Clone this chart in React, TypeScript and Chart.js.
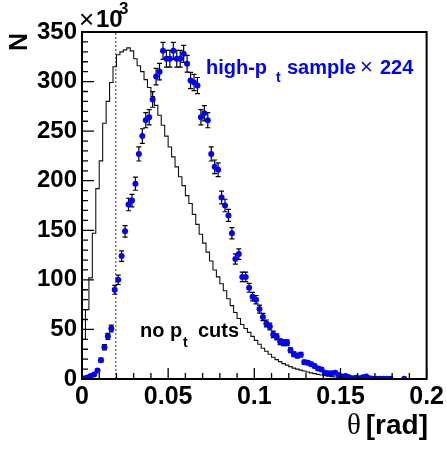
import React, { useEffect, useRef } from 'react';
import { Chart, registerables } from 'chart.js';

Chart.register(...registerables);

// ---------------- data (y values in units of 10^3) ----------------
const BIN_WIDTH = 0.002; // rad
const X_MIN = 0;
const X_MAX = 0.2;
const Y_MIN = 0;
const Y_MAX = 350;
const X_TICK_VALUES = [0, 0.05, 0.1, 0.15, 0.2];
const X_TICK_LABELS = ['0', '0.05', '0.1', '0.15', '0.2'];
const Y_TICK_STEP = 50;
const CUT_THETA = 0.0196;

// "no p_t cuts" histogram, 100 bins of 0.002 rad
const noCutHist = [
  40, 70, 102, 147, 192, 220, 258, 280, 299, 315,
  327, 330, 332, 334, 331, 323, 316, 310, 302, 294,
  285, 276, 266, 256, 245, 234, 224, 214, 204, 195,
  185, 177, 166, 156, 146, 137, 128, 119, 110, 103,
  96, 89, 81, 74, 67, 61, 55, 51, 47, 43,
  39, 35, 31, 28, 25, 22, 19.5, 17.5, 15.5, 14,
  12.5, 11, 10, 9, 8, 7, 6.2, 5.4, 4.7, 4,
  3.4, 2.9, 2.4, 2.0, 1.6, 1.3, 1.0, 0.8, 0.6, 0.5,
  0.4, 0.3, 0.25, 0.2, 0.15, 0.12, 0.1, 0.08, 0.06, 0.05,
  0.04, 0.03, 0.02, 0.02, 0.01, 0.01, 0, 0, 0, 0,
];

// "high-p_t sample x 224" points (bin centres), null = empty bin
const highPtValues = [
  0.5, 1.5, 3, 4.5, 8.5, 19, 32, 43, 51, 90,
  100, 124, 149, 176, 180, 197, 227, 245, 261, 264,
  282, 305, 310, 331, 323, 323, 331, 323, 323, 328,
  318, 301, 299, 296, 264, 268, 261, 227, 214, 211,
  183, 175, 165, 147, 121, 126, 103, 103, 92, 83,
  80, 70.5, 62.5, 56, 53, 45, 42.5, 37.5, 36.5, 36.5,
  29, 25, 23.5, 24.5, 17, 16.5, 15, 13, 10.7, 9.7,
  6.4, 5.7, 5.7, 6.4, 4, 2.4, 3, 1.7, 0.7, 1.3,
  0.7, 1.7, 2.4, 0.7, 0.3, 0.3, 0.3, 0.2, 0.2, 0.2,
  null, null, null, 0.3,
];

const highPtErrors = [
  0.3, 0.6, 0.8, 1.0, 1.4, 2.1, 2.7, 3.1, 3.4, 4.5,
  4.7, 5.3, 5.8, 6.3, 6.3, 6.6, 7.1, 7.4, 7.6, 7.7,
  7.9, 8.3, 8.3, 8.6, 8.5, 8.5, 8.6, 8.5, 8.5, 8.6,
  8.4, 8.2, 8.2, 8.1, 7.7, 7.7, 7.6, 7.1, 6.9, 6.9,
  6.4, 6.3, 6.1, 5.7, 5.2, 5.3, 4.8, 4.8, 4.5, 4.3,
  4.2, 4.0, 3.7, 3.5, 3.4, 3.2, 3.1, 2.9, 2.9, 2.9,
  2.5, 2.4, 2.3, 2.3, 2.0, 1.9, 1.8, 1.7, 1.5, 1.5,
  1.2, 1.1, 1.1, 1.2, 0.9, 0.7, 0.8, 0.6, 0.4, 0.5,
  0.4, 0.6, 0.7, 0.4, 0.3, 0.3, 0.3, 0.2, 0.2, 0.2,
  0, 0, 0, 0.3,
];

const FONT = '"Liberation Sans", Arial, Helvetica, sans-serif';
const SERIF = '"Liberation Serif", "DejaVu Serif", serif';

const rootDecor = {
  id: 'rootDecor',
  beforeDatasetsDraw(chart: any) {
    const { ctx, scales } = chart;
    const x = scales.x.getPixelForValue(CUT_THETA);
    ctx.save();
    ctx.strokeStyle = '#666666';
    ctx.lineWidth = 1.3;
    ctx.setLineDash([2, 2]);
    ctx.beginPath();
    ctx.moveTo(x, scales.y.getPixelForValue(Y_MIN));
    ctx.lineTo(x, scales.y.getPixelForValue(Y_MAX));
    ctx.stroke();
    ctx.restore();
  },
  beforeDatasetDraw(chart: any, args: any) {
    if (args.index !== 0) return;
    const { ctx, chartArea, scales } = chart;
    ctx.save();
    ctx.beginPath();
    ctx.rect(chartArea.left, chartArea.top, chartArea.right - chartArea.left, chartArea.bottom - chartArea.top);
    ctx.clip();
    ctx.strokeStyle = '#000';
    ctx.lineWidth = 1.2;
    highPtValues.forEach((v, i) => {
      if (v == null) return;
      const e = highPtErrors[i];
      if (!e) return;
      const px = scales.x.getPixelForValue((i + 0.5) * BIN_WIDTH);
      const y1 = scales.y.getPixelForValue(v - e);
      const y2 = scales.y.getPixelForValue(v + e);
      ctx.beginPath();
      ctx.moveTo(px, y1);
      ctx.lineTo(px, y2);
      ctx.moveTo(px - 2.5, y1);
      ctx.lineTo(px + 2.5, y1);
      ctx.moveTo(px - 2.5, y2);
      ctx.lineTo(px + 2.5, y2);
      ctx.stroke();
    });
    ctx.restore();
  },
  afterDraw(chart: any) {
    const { ctx, chartArea, scales } = chart;
    const { left, right, top, bottom } = chartArea;
    ctx.save();
    // frame
    ctx.strokeStyle = '#000';
    ctx.lineWidth = 2;
    ctx.strokeRect(left, top, right - left, bottom - top);
    // y ticks (inward)
    ctx.lineWidth = 1.3;
    ctx.beginPath();
    for (let v = Y_MIN; v <= Y_MAX; v += 10) {
      const py = scales.y.getPixelForValue(v);
      const len = v % Y_TICK_STEP === 0 ? 12 : 6;
      ctx.moveTo(left, py);
      ctx.lineTo(left + len, py);
    }
    // x ticks (inward)
    for (let k = 0; k <= 20; k++) {
      const v = k * 0.01;
      const px = scales.x.getPixelForValue(v);
      const len = k % 5 === 0 ? 11 : 6;
      ctx.moveTo(px, bottom);
      ctx.lineTo(px, bottom - len);
    }
    ctx.stroke();

    // x10^3
    ctx.fillStyle = '#000';
    ctx.textAlign = 'left';
    ctx.textBaseline = 'alphabetic';
    ctx.font = `26px ${FONT}`;
    ctx.fillText('×', 79, 28);
    ctx.font = `bold 24px ${FONT}`;
    ctx.fillText('10', 96, 27);
    ctx.font = `bold 17px ${FONT}`;
    ctx.fillText('3', 119, 14);

    // y title N
    ctx.save();
    ctx.translate(27, 33);
    ctx.rotate(-Math.PI / 2);
    ctx.textAlign = 'right';
    ctx.font = `bold 25px ${FONT}`;
    ctx.fillText('N', 0, 0);
    ctx.restore();

    // x title
    ctx.textAlign = 'right';
    ctx.font = `bold 28px ${FONT}`;
    ctx.fillText('[rad]', 428, 434);
    const wRad = ctx.measureText('[rad]').width;
    ctx.font = `29px ${SERIF}`;
    ctx.fillText('θ', 428 - wRad - 5, 434);

    // annotations
    ctx.textAlign = 'left';
    ctx.fillStyle = '#0000ff';
    ctx.font = `bold 20px ${FONT}`;
    ctx.fillText('high-p', 206, 73.5);
    ctx.font = `bold 14px ${FONT}`;
    ctx.fillText('t', 276, 81.5);
    ctx.font = `bold 20px ${FONT}`;
    ctx.fillText('sample', 287, 73.5);
    ctx.font = `22px ${FONT}`;
    ctx.fillText('×', 360, 73.5);
    ctx.font = `bold 20px ${FONT}`;
    ctx.fillText('224', 380, 73.5);

    ctx.fillStyle = '#000';
    ctx.font = `bold 20px ${FONT}`;
    ctx.fillText('no p', 140, 336.5);
    ctx.font = `bold 14px ${FONT}`;
    ctx.fillText('t', 183, 346.5);
    ctx.font = `bold 20px ${FONT}`;
    ctx.fillText('cuts', 198, 336.5);
    ctx.restore();
  },
};

export default function App() {
  const canvasRef = useRef<HTMLCanvasElement | null>(null);

  useEffect(() => {
    const canvas = canvasRef.current;
    if (!canvas) return;

    const histData = noCutHist.map((v, i) => ({ x: i * BIN_WIDTH, y: v }));
    histData.push({ x: noCutHist.length * BIN_WIDTH, y: noCutHist[noCutHist.length - 1] });

    const pointData: { x: number; y: number }[] = [];
    highPtValues.forEach((v, i) => {
      if (v != null) pointData.push({ x: (i + 0.5) * BIN_WIDTH, y: v });
    });

    const chart = new Chart(canvas, {
      type: 'scatter',
      data: {
        datasets: [
          {
            type: 'scatter',
            label: 'high-pt sample x 224',
            data: pointData,
            pointRadius: 3,
            pointBackgroundColor: '#0000ff',
            pointBorderWidth: 0,
            pointBorderColor: '#0000ff',
          },
          {
            type: 'line',
            label: 'no pt cuts',
            data: histData,
            borderColor: '#111',
            borderWidth: 1.1,
            stepped: 'before',
            pointRadius: 0,
            fill: false,
            showLine: true,
          } as any,
        ],
      },
      options: {
        animation: false,
        responsive: false,
        events: [],
        layout: { padding: { top: 32, right: 19, left: 0, bottom: 0 } },
        plugins: {
          legend: { display: false },
          tooltip: { enabled: false },
          title: { display: false },
        },
        scales: {
          x: {
            type: 'linear',
            min: X_MIN,
            max: X_MAX,
            afterBuildTicks: (scale: any) => {
              scale.ticks = X_TICK_VALUES.map((v) => ({ value: v }));
            },
            afterFit: (scale: any) => {
              scale.height = 71;
            },
            grid: { display: false, drawTicks: false },
            border: { display: false },
            ticks: {
              autoSkip: false,
              maxRotation: 0,
              padding: 3,
              color: '#000',
              font: { family: FONT, size: 25, weight: 'bold' },
              callback: (v: any) => {
                const i = X_TICK_VALUES.findIndex((t) => Math.abs(t - v) < 1e-9);
                return i >= 0 ? X_TICK_LABELS[i] : '';
              },
            },
          },
          y: {
            type: 'linear',
            min: Y_MIN,
            max: Y_MAX,
            afterFit: (scale: any) => {
              scale.width = 82;
            },
            grid: { display: false, drawTicks: false },
            border: { display: false },
            ticks: {
              stepSize: Y_TICK_STEP,
              padding: 5,
              color: '#000',
              font: { family: FONT, size: 24, weight: 'bold' },
              callback: (v: any) => String(v),
            },
          },
        },
      },
      plugins: [rootDecor],
    });

    return () => chart.destroy();
  }, []);

  return (
    <div style={{ position: 'absolute', left: 0, top: 0, width: 447, height: 450, background: '#fff' }}>
      <canvas ref={canvasRef} width={447} height={450} style={{ display: 'block' }} />
    </div>
  );
}
